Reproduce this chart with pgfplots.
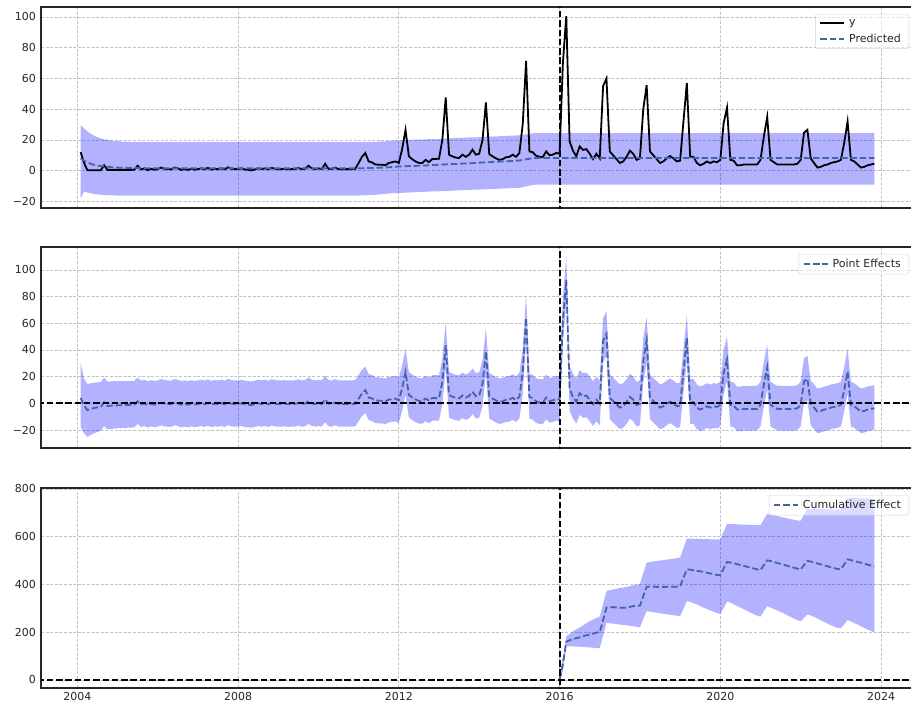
\documentclass[border=0pt]{standalone}
\usepackage{fontspec}
\setmainfont{DejaVu Sans}
\usepackage{pgfplots}
\pgfplotsset{compat=1.18}
\usepgfplotslibrary{fillbetween}
\usepackage{pgfplotstable}

\definecolor{pred}{RGB}{70,98,168}
\definecolor{gridc}{RGB}{195,195,195}
\definecolor{txt}{RGB}{38,38,38}

\pgfplotstableread{
x y p lo hi
2004.083 12 8.0 -18.0 29.5
2004.167 5 6.5 -13.5 27.5
2004.250 0.3 5.4 -14.2 25.5
2004.333 0.3 4.5 -14.7 24.0
2004.417 0.3 3.8 -15.1 22.8
2004.500 0.3 3.3 -15.4 21.8
2004.583 0.3 3.0 -15.6 21.0
2004.667 3.5 2.8 -15.8 20.4
2004.750 0.5 2.5 -15.9 20.0
2004.833 0.5 2.3 -16.0 19.7
2004.917 0.5 2.1 -16.1 19.4
2005.000 0.5 2.0 -16.2 19.2
2005.083 0.5 1.9 -16.2 19.0
2005.167 0.5 1.8 -16.2 18.9
2005.250 0.5 1.8 -16.2 18.8
2005.333 0.5 1.7 -16.2 18.7
2005.417 0.6 1.7 -16.2 18.6
2005.500 3.2 1.7 -16.2 18.6
2005.583 0.8 1.6 -16.2 18.6
2005.667 1.5 1.6 -16.2 18.5
2005.750 0.3 1.6 -16.2 18.5
2005.833 1.2 1.6 -16.2 18.5
2005.917 0.6 1.6 -16.2 18.5
2006.000 1.0 1.5 -16.2 18.5
2006.083 2.0 1.5 -16.2 18.5
2006.167 1.2 1.5 -16.2 18.5
2006.250 1.0 1.5 -16.2 18.5
2006.333 0.8 1.5 -16.2 18.5
2006.417 2.0 1.5 -16.2 18.5
2006.500 1.5 1.5 -16.2 18.5
2006.583 0.5 1.5 -16.2 18.5
2006.667 1.0 1.5 -16.2 18.5
2006.750 0.5 1.5 -16.2 18.5
2006.833 1.2 1.5 -16.2 18.5
2006.917 0.6 1.5 -16.2 18.5
2007.000 1.0 1.5 -16.2 18.5
2007.083 1.5 1.5 -16.2 18.5
2007.167 0.8 1.5 -16.2 18.5
2007.250 1.8 1.5 -16.2 18.5
2007.333 0.7 1.5 -16.2 18.5
2007.417 1.2 1.5 -16.2 18.5
2007.500 1.0 1.5 -16.2 18.5
2007.583 1.5 1.5 -16.2 18.5
2007.667 0.8 1.5 -16.2 18.5
2007.750 2.2 1.5 -16.2 18.5
2007.833 1.2 1.5 -16.2 18.5
2007.917 1.0 1.5 -16.2 18.5
2008.000 1.0 1.5 -16.2 18.5
2008.083 1.5 1.5 -16.2 18.5
2008.167 0.8 1.5 -16.2 18.5
2008.250 0.5 1.5 -16.2 18.5
2008.333 0.2 1.5 -16.2 18.5
2008.417 0.8 1.5 -16.2 18.5
2008.500 1.5 1.5 -16.2 18.5
2008.583 1.0 1.5 -16.2 18.5
2008.667 1.5 1.5 -16.2 18.5
2008.750 0.8 1.5 -16.2 18.5
2008.833 1.8 1.5 -16.2 18.5
2008.917 1.2 1.5 -16.2 18.5
2009.000 1.0 1.5 -16.2 18.5
2009.083 1.0 1.5 -16.2 18.5
2009.167 1.2 1.5 -16.2 18.5
2009.250 0.9 1.5 -16.2 18.5
2009.333 1.0 1.5 -16.2 18.5
2009.417 1.0 1.5 -16.2 18.5
2009.500 1.8 1.5 -16.2 18.5
2009.583 1.0 1.5 -16.2 18.5
2009.667 1.2 1.5 -16.2 18.5
2009.750 3.2 1.5 -16.2 18.5
2009.833 1.5 1.5 -16.2 18.5
2009.917 1.0 1.5 -16.2 18.5
2010.000 1.5 1.5 -16.2 18.5
2010.083 1.0 1.5 -16.2 18.5
2010.167 4.5 1.5 -16.2 18.5
2010.250 1.2 1.5 -16.2 18.5
2010.333 1.0 1.5 -16.2 18.5
2010.417 2.0 1.5 -16.2 18.5
2010.500 1.0 1.5 -16.2 18.5
2010.583 1.0 1.5 -16.2 18.5
2010.667 1.0 1.5 -16.2 18.5
2010.750 1.0 1.5 -16.2 18.5
2010.833 1.0 1.5 -16.2 18.5
2010.917 1.2 1.5 -16.2 18.5
2011.000 5 1.5 -16.2 18.5
2011.083 9 1.6 -16.1 18.5
2011.167 11.5 1.6 -16.0 18.6
2011.250 6 1.7 -15.9 18.6
2011.333 5.4 1.7 -15.8 18.7
2011.417 4 1.8 -15.7 18.8
2011.500 3.9 1.9 -15.5 18.9
2011.583 3.9 2.0 -15.3 19.0
2011.667 3.5 2.1 -15.1 19.1
2011.750 5 2.2 -14.9 19.3
2011.833 5.5 2.4 -14.7 19.4
2011.917 6 2.5 -14.6 19.6
2012.000 5 2.7 -14.5 19.7
2012.083 14 2.8 -14.4 19.8
2012.167 26.6 2.9 -14.3 19.9
2012.250 9.3 3.0 -14.2 20.0
2012.333 7.5 3.0 -14.1 20.1
2012.417 6 3.1 -14.0 20.2
2012.500 5 3.2 -13.9 20.2
2012.583 5 3.3 -13.8 20.3
2012.667 7 3.4 -13.7 20.4
2012.750 5.5 3.5 -13.6 20.5
2012.833 7.6 3.6 -13.5 20.6
2012.917 7.6 3.7 -13.5 20.6
2013.000 7.8 3.9 -13.4 20.7
2013.083 20 4.0 -13.3 20.8
2013.167 47.6 4.1 -13.2 20.9
2013.250 10.4 4.2 -13.1 21.0
2013.333 9.3 4.3 -13.0 21.1
2013.417 8.5 4.4 -12.9 21.2
2013.500 8.2 4.5 -12.8 21.3
2013.583 10.4 4.6 -12.7 21.4
2013.667 9 4.7 -12.6 21.5
2013.750 10.4 4.8 -12.5 21.6
2013.833 13.6 4.9 -12.4 21.7
2013.917 10.4 5.0 -12.4 21.7
2014.000 11 5.2 -12.3 21.8
2014.083 20 5.3 -12.2 21.9
2014.167 44.4 5.4 -12.1 22.0
2014.250 10.8 5.5 -12.0 22.1
2014.333 9.3 5.7 -11.9 22.2
2014.417 8 5.8 -11.8 22.3
2014.500 7 5.9 -11.7 22.4
2014.583 7.5 6.0 -11.6 22.5
2014.667 8.7 6.1 -11.5 22.6
2014.750 9 6.2 -11.4 22.7
2014.833 10.4 6.3 -11.3 22.8
2014.917 9 6.5 -11.2 22.9
2015.000 11.5 6.6 -11.2 23.0
2015.083 30 7.0 -10.7 23.3
2015.167 71.4 7.4 -10.2 23.6
2015.250 12.5 7.8 -9.7 24.0
2015.333 12 8.1 -9.3 24.3
2015.417 9.7 8.2 -9.1 24.4
2015.500 9 8.2 -9.1 24.4
2015.583 8.9 8.2 -9.1 24.4
2015.667 12.5 8.2 -9.1 24.4
2015.750 10 8.2 -9.1 24.4
2015.833 10.4 8.2 -9.1 24.4
2015.917 11.5 8.2 -9.1 24.4
2016.000 11 8.2 -9.1 24.4
2016.083 70 8.2 -9.1 24.4
2016.167 100.6 8.2 -9.1 24.4
2016.250 19 8.2 -9.1 24.4
2016.333 13 8.2 -9.1 24.4
2016.417 9.3 8.2 -9.1 24.4
2016.500 15.8 8.2 -9.1 24.4
2016.583 13.5 8.2 -9.1 24.4
2016.667 14 8.2 -9.1 24.4
2016.750 11 8.2 -9.1 24.4
2016.833 7.5 8.2 -9.1 24.4
2016.917 11 8.2 -9.1 24.4
2017.000 8 8.2 -9.1 24.4
2017.083 55 8.2 -9.1 24.4
2017.167 60 8.2 -9.1 24.4
2017.250 12.5 8.2 -9.1 24.4
2017.333 10 8.2 -9.1 24.4
2017.417 7.5 8.2 -9.1 24.4
2017.500 5 8.2 -9.1 24.4
2017.583 6 8.2 -9.1 24.4
2017.667 9 8.2 -9.1 24.4
2017.750 13 8.2 -9.1 24.4
2017.833 11 8.2 -9.1 24.4
2017.917 7 8.2 -9.1 24.4
2018.000 8 8.2 -9.1 24.4
2018.083 40 8.2 -9.1 24.4
2018.167 55.6 8.2 -9.1 24.4
2018.250 12.5 8.2 -9.1 24.4
2018.333 10 8.2 -9.1 24.4
2018.417 7.5 8.2 -9.1 24.4
2018.500 5 8.2 -9.1 24.4
2018.583 6 8.2 -9.1 24.4
2018.667 8 8.2 -9.1 24.4
2018.750 9.5 8.2 -9.1 24.4
2018.833 8 8.2 -9.1 24.4
2018.917 6 8.2 -9.1 24.4
2019.000 6.5 8.2 -9.1 24.4
2019.083 32 8.2 -9.1 24.4
2019.167 57 8.2 -9.1 24.4
2019.250 9 8.2 -9.1 24.4
2019.333 9 8.2 -9.1 24.4
2019.417 5 8.2 -9.1 24.4
2019.500 3.5 8.2 -9.1 24.4
2019.583 4.5 8.2 -9.1 24.4
2019.667 6 8.2 -9.1 24.4
2019.750 5 8.2 -9.1 24.4
2019.833 6 8.2 -9.1 24.4
2019.917 5.5 8.2 -9.1 24.4
2020.000 7 8.2 -9.1 24.4
2020.083 31 8.2 -9.1 24.4
2020.167 41 8.2 -9.1 24.4
2020.250 7 8.2 -9.1 24.4
2020.333 6.5 8.2 -9.1 24.4
2020.417 3.5 8.2 -9.1 24.4
2020.500 3.5 8.2 -9.1 24.4
2020.583 4 8.2 -9.1 24.4
2020.667 4 8.2 -9.1 24.4
2020.750 4 8.2 -9.1 24.4
2020.833 4 8.2 -9.1 24.4
2020.917 4 8.2 -9.1 24.4
2021.000 7 8.2 -9.1 24.4
2021.083 22 8.2 -9.1 24.4
2021.167 35 8.2 -9.1 24.4
2021.250 7 8.2 -9.1 24.4
2021.333 5.5 8.2 -9.1 24.4
2021.417 4 8.2 -9.1 24.4
2021.500 4 8.2 -9.1 24.4
2021.583 4 8.2 -9.1 24.4
2021.667 4 8.2 -9.1 24.4
2021.750 4 8.2 -9.1 24.4
2021.833 4 8.2 -9.1 24.4
2021.917 4.5 8.2 -9.1 24.4
2022.000 7 8.2 -9.1 24.4
2022.083 24.7 8.2 -9.1 24.4
2022.167 26.6 8.2 -9.1 24.4
2022.250 8 8.2 -9.1 24.4
2022.333 5 8.2 -9.1 24.4
2022.417 2 8.2 -9.1 24.4
2022.500 2.5 8.2 -9.1 24.4
2022.583 3.5 8.2 -9.1 24.4
2022.667 4 8.2 -9.1 24.4
2022.750 5 8.2 -9.1 24.4
2022.833 5.5 8.2 -9.1 24.4
2022.917 6 8.2 -9.1 24.4
2023.000 7 8.2 -9.1 24.4
2023.083 18 8.2 -9.1 24.4
2023.167 32 8.2 -9.1 24.4
2023.250 7 8.2 -9.1 24.4
2023.333 6 8.2 -9.1 24.4
2023.417 4 8.2 -9.1 24.4
2023.500 2 8.2 -9.1 24.4
2023.583 2.5 8.2 -9.1 24.4
2023.667 3.5 8.2 -9.1 24.4
2023.750 4 8.2 -9.1 24.4
2023.833 4.5 8.2 -9.1 24.4
}\main

\pgfplotstableread{
x c lo hi
2016.000 3 -14 20
2016.083 65 40 92
2016.167 160 140 182
2016.250 166 141 192
2016.333 171 140 203
2016.417 175 139 212
2016.500 178 139 219
2016.583 183 138 228
2016.667 187 137 237
2016.750 190 136 246
2016.833 194 135 253
2016.917 198 133 260
2017.000 200 133 265
2017.083 250 185 318
2017.167 303 239 372
2017.250 304 237 376
2017.333 305 236 379
2017.417 303 234 382
2017.500 302 232 385
2017.583 302 230 387
2017.667 303 229 390
2017.750 306 227 393
2017.833 309 225 396
2017.917 310 222 399
2018.000 311 220 402
2018.083 350 255 447
2018.167 390 288 491
2018.250 391 286 494
2018.333 391 284 496
2018.417 390 282 498
2018.500 389 279 500
2018.583 389 277 502
2018.667 390 275 504
2018.750 390 273 506
2018.833 390 271 508
2018.917 390 269 510
2019.000 392 267 512
2019.083 428 298 552
2019.167 463 330 592
2019.250 462 327 592
2019.333 459 321 591
2019.417 457 316 591
2019.500 455 310 590
2019.583 452 303 590
2019.667 449 297 590
2019.750 446 291 589
2019.833 443 285 589
2019.917 440 280 589
2020.000 438 276 589
2020.083 466 301 620
2020.167 494 328 654
2020.250 492 324 653
2020.333 489 317 653
2020.417 485 310 652
2020.500 481 303 651
2020.583 478 296 651
2020.667 474 289 650
2020.750 470 282 649
2020.833 467 275 649
2020.917 463 269 648
2021.000 460 265 648
2021.083 481 287 672
2021.167 501 309 695
2021.250 498 303 692
2021.333 494 297 689
2021.417 490 291 686
2021.500 486 285 683
2021.583 482 278 680
2021.667 478 271 677
2021.750 474 264 674
2021.833 470 257 671
2021.917 466 251 668
2022.000 463 246 667
2022.083 481 260 692
2022.167 498 274 716
2022.250 496 270 716
2022.333 492 264 716
2022.417 488 257 715
2022.500 484 250 715
2022.583 480 243 715
2022.667 476 236 714
2022.750 472 229 714
2022.833 468 223 714
2022.917 465 218 713
2023.000 463 217 713
2023.083 484 233 737
2023.167 505 250 761
2023.250 502 245 762
2023.333 498 238 762
2023.417 494 232 761
2023.500 491 225 761
2023.583 487 218 761
2023.667 483 211 761
2023.750 479 205 761
2023.833 475 199 760
}\cum

\pgfplotsset{
  panel/.style={
    width=873pt, height=201pt, scale only axis,
    xmin=2003.096, xmax=2024.82,
    xtick={2004,2008,2012,2016,2020,2024},
    grid=major,
    major grid style={draw=gridc, dash pattern=on 3pt off 1.6pt, line width=0.7pt},
    major tick length=0pt,
    axis line style={line width=1.5pt, draw=black!85},
    tick label style={font=\fontsize{11}{13}\selectfont, text=txt},
    yticklabel style={xshift=-1.5pt},
    xticklabel style={yshift=-1pt},
    /pgf/number format/assume math mode=true,
    legend style={font=\fontsize{11}{13}\selectfont, text=txt, draw=black!18,
      rounded corners=2pt, fill=white, fill opacity=0.55, text opacity=1,
      draw opacity=1, inner xsep=4pt, inner ysep=3pt, row sep=3pt,
      nodes={inner xsep=4pt}},
    legend cell align=left,
    legend image code/.code={\draw[##1] (0pt,0pt) -- (24pt,0pt);},
  },
  bandstyle/.style={draw=none, fill=blue, fill opacity=0.3},
  vline/.style={black, line width=2pt, dash pattern=on 6.5pt off 2.8pt},
  dashline/.style={pred, line width=1.8pt, dash pattern=on 6.5pt off 2.8pt},
}

\begin{document}
\begin{tikzpicture}
% ---------- Panel 1 ----------
\begin{axis}[panel, at={(41pt,-7pt)}, anchor=north west,
  ymin=-24.3, ymax=106.5,
  ytick={-20,0,20,40,60,80,100},
  yticklabels={−20,0,20,40,60,80,100},
  xticklabels={},
  legend style={at={(0.9943,0.965)}, anchor=north east}]
\addplot[name path=hi1, draw=none, forget plot] table[x=x, y=hi] {\main};
\addplot[name path=lo1, draw=none, forget plot] table[x=x, y=lo] {\main};
\addplot[bandstyle, forget plot] fill between[of=hi1 and lo1];
\addplot[black, line width=1.8pt] table[x=x, y=y] {\main};
\addlegendentry{y}
\addplot[dashline] table[x=x, y=p] {\main};
\addlegendentry{Predicted}
\addplot[vline, forget plot] coordinates {(2016,-100) (2016,200)};
\end{axis}

% ---------- Panel 2 ----------
\begin{axis}[panel, at={(41pt,-247pt)}, anchor=north west,
  ymin=-33.5, ymax=117.2,
  ytick={-20,0,20,40,60,80,100},
  yticklabels={−20,0,20,40,60,80,100},
  xticklabels={},
  legend style={at={(0.9943,0.965)}, anchor=north east}]
\addplot[name path=hi2, draw=none, forget plot] table[x=x, y expr=\thisrow{y}-\thisrow{lo}] {\main};
\addplot[name path=lo2, draw=none, forget plot] table[x=x, y expr=\thisrow{y}-\thisrow{hi}] {\main};
\addplot[bandstyle, forget plot] fill between[of=hi2 and lo2];
\addplot[dashline] table[x=x, y expr=\thisrow{y}-\thisrow{p}] {\main};
\addlegendentry{Point Effects}
\addplot[vline, forget plot] coordinates {(2016,-100) (2016,200)};
\addplot[vline, forget plot] coordinates {(2000,0) (2030,0)};
\end{axis}

% ---------- Panel 3 ----------
\begin{axis}[panel, at={(41pt,-488pt)}, anchor=north west,
  height=200pt,
  ymin=-34, ymax=804,
  ytick={0,200,400,600,800},
  yticklabels={0,200,400,600,800},
  xticklabels={2004,2008,2012,2016,2020,2024},
  legend style={at={(0.9943,0.965)}, anchor=north east}]
\addplot[name path=hi3, draw=none, forget plot] table[x=x, y=hi] {\cum};
\addplot[name path=lo3, draw=none, forget plot] table[x=x, y=lo] {\cum};
\addplot[bandstyle, forget plot] fill between[of=hi3 and lo3];
\addplot[dashline] table[x=x, y=c] {\cum};
\addlegendentry{Cumulative Effect}
\addplot[vline, forget plot] coordinates {(2016,-100) (2016,1000)};
\addplot[vline, forget plot] coordinates {(2000,0) (2030,0)};
\end{axis}
\pgfresetboundingbox
\path[use as bounding box] (0pt,0pt) rectangle (911pt,-707pt);
\end{tikzpicture}
\end{document}
